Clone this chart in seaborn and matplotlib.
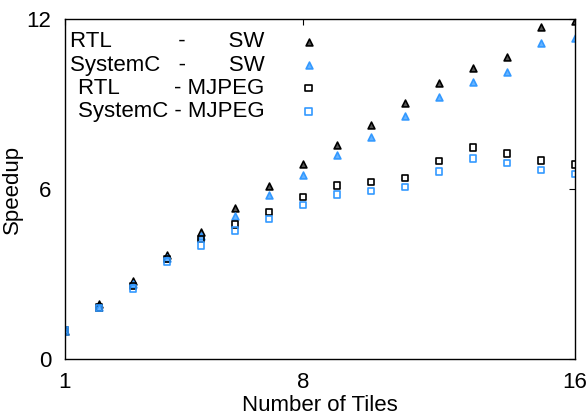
import numpy as np
import pandas as pd
import seaborn as sns
import matplotlib
matplotlib.use("Agg")
import matplotlib.pyplot as plt

tiles = list(range(1, 17))
rtl_sw = [1.0, 1.94, 2.75, 3.67, 4.50, 5.33, 6.10, 6.88, 7.55, 8.26, 9.04, 9.74, 10.27, 10.66, 11.72, 11.93]
sc_sw = [1.0, 1.85, 2.65, 3.57, 4.35, 5.05, 5.79, 6.50, 7.20, 7.84, 8.58, 9.25, 9.78, 10.13, 11.15, 11.33]
rtl_mjpeg = [1.0, 1.82, 2.58, 3.53, 4.24, 4.76, 5.19, 5.72, 6.14, 6.25, 6.39, 6.99, 7.48, 7.27, 7.02, 6.88]
sc_mjpeg = [1.0, 1.80, 2.50, 3.43, 4.02, 4.55, 4.94, 5.44, 5.82, 5.93, 6.07, 6.63, 7.09, 6.92, 6.67, 6.53]

labels = ["RTL" + " " * 11 + "-" + " " * 7 + "SW",
          "SystemC" + " " * 3 + "-" + " " * 7 + "SW",
          "RTL" + " " * 9 + "- MJPEG",
          "SystemC - MJPEG"]

sns.set_theme(style="white")
plt.rcParams['font.family'] = ['Liberation Sans', 'DejaVu Sans']
plt.rcParams['text.color'] = 'black'
plt.rcParams['axes.labelcolor'] = 'black'

fig = plt.figure(figsize=(5.88, 4.16), dpi=100)
ax = fig.add_axes([0.1105, 0.137, 0.8675, 0.817])

blue = "#3399ff"
styles = [
    (rtl_sw, "^", "#555555", "black", 24),
    (sc_sw, "^", "#66b3ff", blue, 24),
    (rtl_mjpeg, "s", "none", "black", 24),
    (sc_mjpeg, "s", "none", blue, 24),
]
for lab, (vals, mk, fc, ec, sz) in zip(labels, styles):
    df = pd.DataFrame({"Tiles": tiles, "Speedup": vals})
    sns.scatterplot(data=df, x="Tiles", y="Speedup", marker=mk, s=sz,
                    facecolor=fc, edgecolor=ec, linewidth=1.2, label=lab, ax=ax)

ax.set_xlim(1, 16)
ax.set_ylim(0, 12)
ax.set_xticks([1, 8, 16])
ax.set_yticks([0, 6, 12])
ax.tick_params(direction="in", length=4, width=0.8, top=True, right=True,
               labelsize=16, colors="black")
ax.tick_params(axis="x", pad=9)
ax.tick_params(axis="y", pad=10)
for s in ax.spines.values():
    s.set_color("black")
    s.set_linewidth(1.0)
ax.set_xlabel("Number of Tiles", fontsize=16, labelpad=2)
ax.set_ylabel("Speedup", fontsize=16, labelpad=2)

leg = ax.legend(loc="upper left", bbox_to_anchor=(-0.015, 1.0), frameon=False,
                markerfirst=False, fontsize=16, handletextpad=1.6,
                labelspacing=0.1, borderaxespad=0.15, handlelength=0.8)

fig.savefig("out.png", dpi=100)
